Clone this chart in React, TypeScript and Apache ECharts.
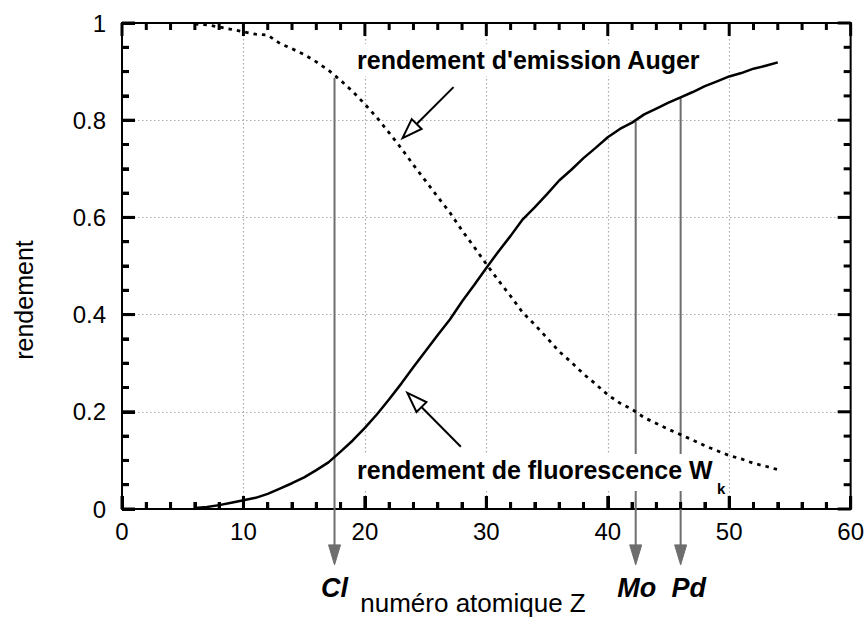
import React, { useEffect, useRef } from "react";
import * as echarts from "echarts";

// Atomic number Z (x) and yields (y)
const fluoZ = [6,7,8,9,10,11,12,13,14,15,16,17,18,19,20,21,22,23,24,25,26,27,28,29,30,31,32,33,34,35,36,37,38,39,40,41,42,43,44,45,46,47,48,49,50,51,52,53,54];
const fluoY = [0.002,0.004,0.008,0.013,0.018,0.023,0.031,0.042,0.053,0.065,0.080,0.096,0.118,0.141,0.167,0.195,0.226,0.258,0.292,0.325,0.358,0.390,0.427,0.461,0.496,0.530,0.562,0.596,0.621,0.648,0.676,0.698,0.722,0.743,0.765,0.782,0.795,0.812,0.824,0.836,0.847,0.858,0.870,0.880,0.890,0.897,0.906,0.912,0.919];
const augerZ = [6,7,8,9,10,11,12,13,14,15,16,17,18,19,20,21,22,23,24,25,26,27,28,29,30,31,32,33,34,35,36,37,38,39,40,41,42,43,44,45,46,47,48,49,50,51,52,53,54];
const augerY = [0.998,0.996,0.992,0.987,0.982,0.977,0.975,0.958,0.947,0.935,0.920,0.903,0.882,0.859,0.833,0.805,0.774,0.742,0.708,0.675,0.642,0.610,0.573,0.539,0.504,0.470,0.438,0.404,0.379,0.352,0.324,0.302,0.278,0.257,0.235,0.218,0.205,0.188,0.176,0.164,0.153,0.142,0.130,0.120,0.110,0.103,0.094,0.088,0.081];

// Axis ticks
const xMajorTicks = [0, 10, 20, 30, 40, 50, 60];
const xMinorTicks = [2,4,6,8,12,14,16,18,22,24,26,28,32,34,36,38,42,44,46,48,52,54,56,58];
const yMajorTicks = [0, 0.2, 0.4, 0.6, 0.8, 1];
const yMinorTicks = [0.05,0.1,0.15,0.25,0.3,0.35,0.45,0.5,0.55,0.65,0.7,0.75,0.85,0.9,0.95];

// Marked elements
const elementNames = ["Cl", "Mo", "Pd"];
const elementZ = [17.5, 42.3, 46.0];
const elementTop = [0.887, 0.797, 0.846];
const elementBottom = [-0.115, -0.115, -0.115];
const elementLabelDx = [0, 1, 8];

// Annotation arrows: tail and tip
const arrowTailZ = [27.3, 27.9];
const arrowTailY = [0.868, 0.128];
const arrowTipZ = [23.1, 23.5];
const arrowTipY = [0.763, 0.239];

const FONT = '"Liberation Sans", Arial, Helvetica, sans-serif';

function arrowHead(tip: number[], from: number[], len: number, half: number) {
  const dx = tip[0] - from[0];
  const dy = tip[1] - from[1];
  const d = Math.sqrt(dx * dx + dy * dy) || 1;
  const ux = dx / d, uy = dy / d;
  const bx = tip[0] - ux * len, by = tip[1] - uy * len;
  return {
    base: [bx, by],
    points: [tip, [bx - uy * half, by + ux * half], [bx + uy * half, by - ux * half]],
  };
}

export default function App() {
  const ref = useRef<HTMLDivElement>(null);
  useEffect(() => {
    if (!ref.current) return;
    const chart = echarts.init(ref.current, null, { renderer: "svg" });
    const gridLine = { show: true, lineStyle: { color: "#aaa", type: [1.5, 2.5], width: 1.2 } };
    const option: any = {
      animation: false,
      grid: { left: 122, right: 14, top: 23, bottom: 116 },
      xAxis: [
        {
          type: "value", min: 0, max: 60, interval: 10,
          axisLine: { show: true, onZero: false, lineStyle: { color: "#000", width: 2 } },
          axisTick: { show: true, inside: true, length: 13, lineStyle: { color: "#000", width: 3 } },
          minorTick: { show: true, splitNumber: 5, length: 7, lineStyle: { color: "#000", width: 3 } },
          axisLabel: { color: "#000", fontSize: 24, fontFamily: FONT, margin: 10 },
          splitLine: gridLine,
        },
      ],
      yAxis: [
        {
          type: "value", min: 0, max: 1, interval: 0.2,
          axisLine: { show: true, onZero: false, lineStyle: { color: "#000", width: 2 } },
          axisTick: { show: true, inside: true, length: 13, lineStyle: { color: "#000", width: 3 } },
          minorTick: { show: true, splitNumber: 4, length: 7, lineStyle: { color: "#000", width: 3 } },
          axisLabel: { color: "#000", fontSize: 24, fontFamily: FONT, margin: 16 },
          splitLine: gridLine,
        },
      ],
      series: [
        {
          type: "custom",
          name: "elements",
          clip: false,
          z: 2,
          data: elementZ.map((z, i) => [z, elementTop[i], elementBottom[i], i]),
          renderItem: (params: any, api: any) => {
            const z = api.value(0);
            const top = api.coord([z, api.value(1)]);
            const bot = api.coord([z, api.value(2)]);
            const i = api.value(3);
            const head = arrowHead(bot, top, 20, 6);
            return {
              type: "group",
              children: [
                {
                  type: "line",
                  shape: { x1: top[0], y1: top[1], x2: head.base[0], y2: head.base[1] + 1 },
                  style: { stroke: "#6e6e6e", lineWidth: 2 },
                },
                {
                  type: "polygon",
                  shape: { points: head.points },
                  style: { fill: "#6e6e6e", stroke: "#6e6e6e", lineWidth: 1 },
                },
                {
                  type: "text",
                  style: {
                    text: elementNames[i],
                    x: bot[0] + elementLabelDx[i],
                    y: bot[1] + 23,
                    align: "center",
                    verticalAlign: "middle",
                    fontSize: 27,
                    fontWeight: "bold",
                    fontStyle: "italic",
                    fontFamily: FONT,
                    fill: "#000",
                  },
                },
              ],
            };
          },
        },
        {
          type: "line",
          name: "fluorescence",
          data: fluoZ.map((z, i) => [z, fluoY[i]]),
          symbol: "none",
          showSymbol: false,
          z: 3,
          lineStyle: { color: "#000", width: 2.5 },
        },
        {
          type: "line",
          name: "auger",
          data: augerZ.map((z, i) => [z, augerY[i]]),
          symbol: "none",
          showSymbol: false,
          z: 3,
          lineStyle: { color: "#000", width: 2.8, type: [3.5, 5] },
        },
        {
          type: "custom",
          name: "arrows",
          clip: false,
          z: 4,
          data: arrowTailZ.map((z, i) => [z, arrowTailY[i], arrowTipZ[i], arrowTipY[i]]),
          renderItem: (params: any, api: any) => {
            const tail = api.coord([api.value(0), api.value(1)]);
            const tip = api.coord([api.value(2), api.value(3)]);
            const head = arrowHead(tip, tail, 20, 7);
            return {
              type: "group",
              children: [
                {
                  type: "line",
                  shape: { x1: tail[0], y1: tail[1], x2: head.base[0], y2: head.base[1] },
                  style: { stroke: "#000", lineWidth: 2 },
                },
                {
                  type: "polygon",
                  shape: { points: head.points },
                  style: { fill: "#fff", stroke: "#000", lineWidth: 2 },
                },
              ],
            };
          },
        },
      ],
    };
    chart.setOption(option);

    // Frame and tick marks, placed through the axes' own scales
    const px = (x: number, y: number) => chart.convertToPixel({ xAxisIndex: 0, yAxisIndex: 0 } as any, [x, y]) as any;
    const p00 = px(0, 0);
    const p11 = px(60, 1);
    const xl = p00[0], xr = p11[0], yb = p00[1], yt = p11[1];
    const W = 3;
    const els: any[] = [];
    els.push({ type: "rect", z: 100, shape: { x: xl - 1, y: yt - 1, width: xr - xl + 2, height: 2 }, style: { fill: "#000" } });
    els.push({ type: "rect", z: 100, shape: { x: xr - 1, y: yt - 1, width: 2, height: yb - yt + 2 }, style: { fill: "#000" } });
    const addX = (v: number, len: number) => {
      const x = px(v, 0)[0];
      els.push({ type: "rect", z: 100, shape: { x: x - W / 2, y: yb - len, width: W, height: len }, style: { fill: "#000" } });
      els.push({ type: "rect", z: 100, shape: { x: x - W / 2, y: yt, width: W, height: len }, style: { fill: "#000" } });
    };
    const addY = (v: number, len: number) => {
      const y = px(0, v)[1];
      els.push({ type: "rect", z: 100, shape: { x: xl, y: y - W / 2, width: len, height: W }, style: { fill: "#000" } });
      els.push({ type: "rect", z: 100, shape: { x: xr - len, y: y - W / 2, width: len, height: W }, style: { fill: "#000" } });
    };
    xMajorTicks.forEach((v) => addX(v, 13));
    xMinorTicks.forEach((v) => addX(v, 7));
    yMajorTicks.forEach((v) => addY(v, 13));
    yMinorTicks.forEach((v) => addY(v, 7));

    els.push(
      {
        type: "text",
        z: 100,
        left: 354,
        top: 44,
        style: {
          text: "rendement d'emission Auger",
          fontSize: 25,
          fontWeight: "bold",
          fontFamily: FONT,
          fill: "#000",
          backgroundColor: "#fff",
          padding: [3, 3, 4, 3],
        },
      },
      {
        type: "text",
        z: 100,
        left: 354,
        top: 454,
        style: {
          text: "rendement de fluorescence W",
          fontSize: 25,
          fontWeight: "bold",
          fontFamily: FONT,
          fill: "#000",
          backgroundColor: "#fff",
          padding: [3, 3, 9, 3],
        },
      },
      {
        type: "text",
        z: 101,
        left: 717,
        top: 481,
        style: { text: "k", fontSize: 15, fontWeight: "bold", fontFamily: FONT, fill: "#000" },
      },
      {
        type: "text",
        z: 100,
        x: 24,
        y: 300,
        rotation: Math.PI / 2,
        style: {
          text: "rendement",
          fontSize: 25,
          fontFamily: FONT,
          fill: "#000",
          align: "center",
          verticalAlign: "middle",
        },
      },
      {
        type: "text",
        z: 100,
        x: 473,
        y: 603,
        style: {
          text: "numéro atomique Z",
          fontSize: 26,
          fontFamily: FONT,
          fill: "#000",
          align: "center",
          verticalAlign: "middle",
        },
      }
    );
    chart.setOption({ graphic: els });
    return () => chart.dispose();
  }, []);
  return (
    <div
      ref={ref}
      style={{ position: "fixed", left: 0, top: 0, width: 867, height: 625, background: "#fff" }}
    />
  );
}
